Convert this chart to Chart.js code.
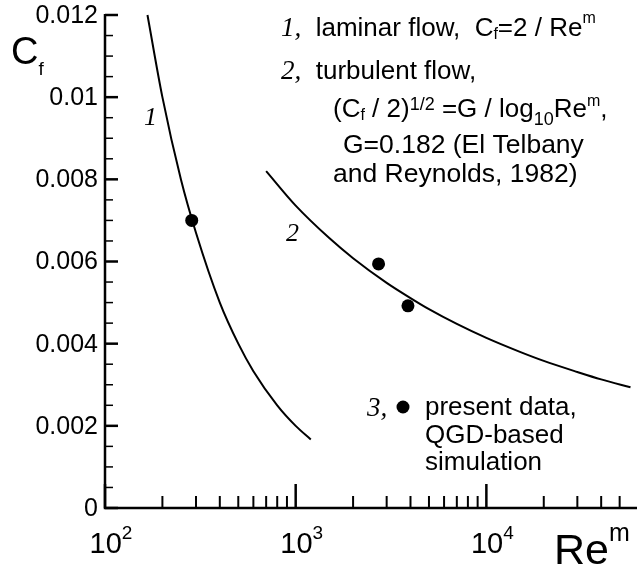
<!DOCTYPE html>
<html>
<head>
<meta charset="utf-8">
<script src="https://cdn.jsdelivr.net/npm/chart.js@4.4.1/dist/chart.umd.min.js"></script>
<style>
html,body{margin:0;padding:0;background:#fff;}
#wrap{width:637px;height:569px;position:relative;}
</style>
</head>
<body>
<div id="wrap"><canvas id="c" width="637" height="569"></canvas></div>
<script>
// ---- data ----
const laminarRe = [167, 200, 250, 300, 400, 500, 600, 800, 1000, 1200];
const laminarCf = [0.0120, 0.0100, 0.0080, 0.0067, 0.0050, 0.0040, 0.00333, 0.0025, 0.0020, 0.00167];
const turbRe = [700, 1000, 1500, 2000, 3000, 4000, 5000, 7000, 10000, 15000, 20000, 30000, 40000, 57000];
const turbCf = [0.0082, 0.00736, 0.00657, 0.00608, 0.00548, 0.00511, 0.00484, 0.00448, 0.00414, 0.0038, 0.00358, 0.00331, 0.00313, 0.00294];
const presentRe = [285, 2720, 3880];
const presentCf = [0.0070, 0.00594, 0.00492];
const xMin = 100, xMax = 57000;
const yMin = 0, yMax = 0.012;
const xMajorTicks = [100, 1000, 10000];
const xMajorExp = ['2', '3', '4'];
const xMinorTicks = [200,300,400,500,600,700,800,900,2000,3000,4000,5000,6000,7000,8000,9000,20000,30000,40000,50000];
const yMajorTicks = [0, 0.002, 0.004, 0.006, 0.008, 0.01, 0.012];
const yTickLabels = ['0', '0.002', '0.004', '0.006', '0.008', '0.01', '0.012'];
const yMinorTicks = [0.0005,0.001,0.0015,0.0025,0.003,0.0035,0.0045,0.005,0.0055,0.0065,0.007,0.0075,0.0085,0.009,0.0095,0.0105,0.011,0.0115];

const SANS = '"Liberation Sans", Arial, sans-serif';
const SERIF = '"Liberation Serif", "Times New Roman", serif';

function rich(ctx, x, y, segs, align) {
  // segs: [text, fontSize, dy, family, style]
  let total = 0;
  const w = segs.map(s => {
    ctx.font = (s[4] || '') + ' ' + s[1] + 'px ' + (s[3] || SANS);
    const m = ctx.measureText(s[0]).width;
    total += m;
    return m;
  });
  let cx = x;
  if (align === 'center') cx = x - total / 2;
  if (align === 'right') cx = x - total;
  segs.forEach((s, i) => {
    ctx.font = (s[4] || '') + ' ' + s[1] + 'px ' + (s[3] || SANS);
    ctx.fillText(s[0], cx, y + (s[2] || 0));
    cx += w[i];
  });
}

const decor = {
  id: 'decor',
  afterDraw(chart) {
    const ctx = chart.ctx;
    const xs = chart.scales.x, ys = chart.scales.y;
    const a = chart.chartArea;
    ctx.save();
    ctx.strokeStyle = '#000';
    ctx.fillStyle = '#000';
    ctx.lineCap = 'butt';
    // axes
    ctx.lineWidth = 2.5;
    ctx.beginPath();
    ctx.moveTo(a.left, a.top - 1);
    ctx.lineTo(a.left, a.bottom);
    ctx.lineTo(637, a.bottom);
    ctx.stroke();
    // y ticks
    ctx.lineWidth = 2.5;
    yMajorTicks.forEach(v => {
      const py = ys.getPixelForValue(v);
      ctx.beginPath(); ctx.moveTo(a.left, py); ctx.lineTo(a.left + 13, py); ctx.stroke();
    });
    ctx.lineWidth = 1.5;
    yMinorTicks.forEach(v => {
      const py = ys.getPixelForValue(v);
      ctx.beginPath(); ctx.moveTo(a.left, py); ctx.lineTo(a.left + 8, py); ctx.stroke();
    });
    // x ticks
    ctx.lineWidth = 2.5;
    xMajorTicks.forEach(v => {
      const px = xs.getPixelForValue(v);
      ctx.beginPath(); ctx.moveTo(px, a.bottom); ctx.lineTo(px, a.bottom - 24); ctx.stroke();
    });
    ctx.lineWidth = 2;
    xMinorTicks.forEach(v => {
      const px = xs.getPixelForValue(v);
      ctx.beginPath(); ctx.moveTo(px, a.bottom); ctx.lineTo(px, a.bottom - 12); ctx.stroke();
    });
    // y labels
    ctx.textBaseline = 'middle';
    ctx.textAlign = 'right';
    ctx.font = '25px ' + SANS;
    yMajorTicks.forEach((v, i) => {
      ctx.fillText(yTickLabels[i], a.left - 7, ys.getPixelForValue(v) + 1);
    });
    // x labels
    ctx.textAlign = 'left';
    ctx.textBaseline = 'alphabetic';
    xMajorTicks.forEach((v, i) => {
      const px = xs.getPixelForValue(v);
      rich(ctx, px + 6, 553, [['10', 29], [xMajorExp[i], 19, -14]], 'center');
    });
    // axis titles
    rich(ctx, 11, 64, [['C', 38], ['f', 19, 11]], 'left');
    rich(ctx, 554, 564, [['Re', 43], ['m', 25, -23]], 'left');
    // curve labels
    ctx.font = 'italic 26px ' + SERIF;
    ctx.fillText('1', 144, 125);
    ctx.fillText('2', 286, 241);
    // annotation text
    const F = 26;
    rich(ctx, 281, 36, [['1,', 27, 0, SERIF, 'italic'], ['  laminar flow,  C', F], ['f', 16, 3], ['=2 / Re', F], ['m', 16, -13]], 'left');
    rich(ctx, 281, 79, [['2,', 27, 0, SERIF, 'italic'], ['  turbulent flow,', F]], 'left');
    rich(ctx, 333, 117, [['(C', F], ['f', 16, 3], [' / 2)', F], ['1/2', 18, -7], [' =G / log', F], ['10', 18, 8], ['Re', F], ['m', 16, -11], [',', F]], 'left');
    rich(ctx, 343, 153, [['G=0.182 (El Telbany', 26.5]], 'left');
    rich(ctx, 333, 182, [['and Reynolds, 1982)', 26.5]], 'left');
    // legend entry
    ctx.font = 'italic 27px ' + SERIF;
    ctx.fillText('3,', 367, 416);
    ctx.beginPath(); ctx.arc(403, 407, 6.5, 0, Math.PI * 2); ctx.fill();
    ctx.font = F + 'px ' + SANS;
    ctx.fillText('present data,', 425, 415);
    ctx.fillText('QGD-based', 425, 443);
    ctx.fillText('simulation', 425, 470);
    ctx.restore();
  }
};

new Chart(document.getElementById('c'), {
  type: 'scatter',
  data: {
    datasets: [
      {
        label: 'laminar',
        data: laminarRe.map((x, i) => ({x, y: laminarCf[i]})),
        showLine: true, borderColor: '#000', borderWidth: 2, pointRadius: 0,
        cubicInterpolationMode: 'monotone', clip: false
      },
      {
        label: 'turbulent',
        data: turbRe.map((x, i) => ({x, y: turbCf[i]})),
        showLine: true, borderColor: '#000', borderWidth: 2, pointRadius: 0,
        cubicInterpolationMode: 'monotone', clip: false
      },
      {
        label: 'present',
        data: presentRe.map((x, i) => ({x, y: presentCf[i]})),
        showLine: false, backgroundColor: '#000', borderColor: '#000', pointRadius: 6.5, borderWidth: 0
      }
    ]
  },
  options: {
    responsive: false,
    animation: false,
    layout: { padding: { left: 105, right: 3, top: 15, bottom: 61 } },
    plugins: { legend: { display: false }, tooltip: { enabled: false } },
    scales: {
      x: { type: 'logarithmic', min: xMin, max: xMax, display: false },
      y: { type: 'linear', min: yMin, max: yMax, display: false }
    }
  },
  plugins: [decor]
});
</script>
</body>
</html>
